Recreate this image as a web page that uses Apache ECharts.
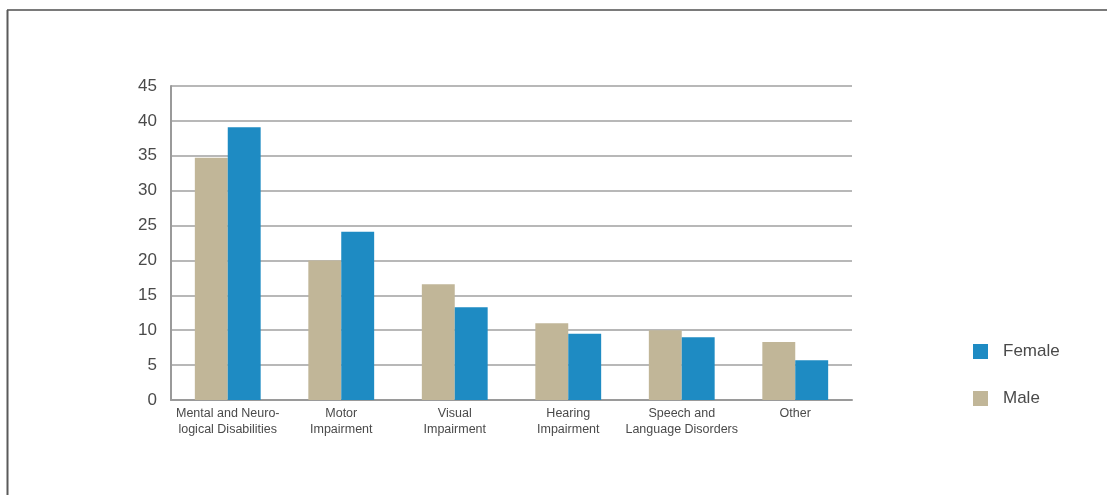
<!DOCTYPE html>
<html>
<head>
<meta charset="utf-8">
<script src="https://cdn.jsdelivr.net/npm/echarts@6/dist/echarts.min.js"></script>
<style>
  html, body { margin: 0; padding: 0; background: #fff; }
  #chart { width: 1107px; height: 495px; }
</style>
</head>
<body>
<div id="chart"></div>
<script>
// Disability categories (x axis)
const categories = [
  'Mental and Neuro-\nlogical Disabilities',
  'Motor\nImpairment',
  'Visual\nImpairment',
  'Hearing\nImpairment',
  'Speech and\nLanguage Disorders',
  'Other'
];
// Share per category, by sex
const maleValues = [34.7, 20.0, 16.6, 11.0, 10.0, 8.3];
const femaleValues = [39.1, 24.1, 13.3, 9.5, 9.0, 5.7];
// Value axis range
const yMin = 0;
const yMax = 45;
const yStep = 5;

const FONT = '"Liberation Sans", Arial, sans-serif';
const TEXT = '#4a4a4a';
const MALE = '#c1b698';
const FEMALE = '#1e8bc3';

const chart = echarts.init(document.getElementById('chart'), null, { renderer: 'canvas' });

chart.setOption({
  animation: false,
  backgroundColor: '#ffffff',
  graphic: [
    { type: 'line', shape: { x1: 7, y1: 10, x2: 1107, y2: 10 }, style: { stroke: '#7a7a7a', lineWidth: 2 } },
    { type: 'line', shape: { x1: 7.5, y1: 10, x2: 7.5, y2: 495 }, style: { stroke: '#5a5a5a', lineWidth: 2 } }
  ],
  grid: { left: 171, right: 255, top: 86, bottom: 95, containLabel: false },
  legend: {
    orient: 'vertical',
    left: 968,
    top: 338,
    itemWidth: 15,
    itemHeight: 15,
    itemGap: 30,
    icon: 'rect',
    data: ['Female', 'Male'],
    textStyle: { fontFamily: FONT, fontSize: 17, color: TEXT, padding: [0, 0, 0, 10] }
  },
  xAxis: {
    type: 'category',
    data: categories,
    axisLine: { lineStyle: { color: '#9a9a9a', width: 2 } },
    axisTick: { show: false },
    axisLabel: { fontFamily: FONT, fontSize: 12.5, color: TEXT, lineHeight: 16, margin: 6, interval: 0 }
  },
  yAxis: {
    type: 'value',
    min: yMin,
    max: yMax,
    interval: yStep,
    axisLine: { show: true, lineStyle: { color: '#9a9a9a', width: 2 } },
    axisTick: { show: false },
    axisLabel: { fontFamily: FONT, fontSize: 17, color: TEXT, margin: 14 },
    splitLine: { lineStyle: { color: '#a0a0a0', width: 1.5 } }
  },
  series: [
    {
      name: 'Male',
      type: 'bar',
      data: maleValues,
      itemStyle: { color: MALE },
      barGap: '0%',
      barCategoryGap: '42%'
    },
    {
      name: 'Female',
      type: 'bar',
      data: femaleValues,
      itemStyle: { color: FEMALE },
      barGap: '0%',
      barCategoryGap: '42%'
    }
  ]
});
</script>
</body>
</html>
